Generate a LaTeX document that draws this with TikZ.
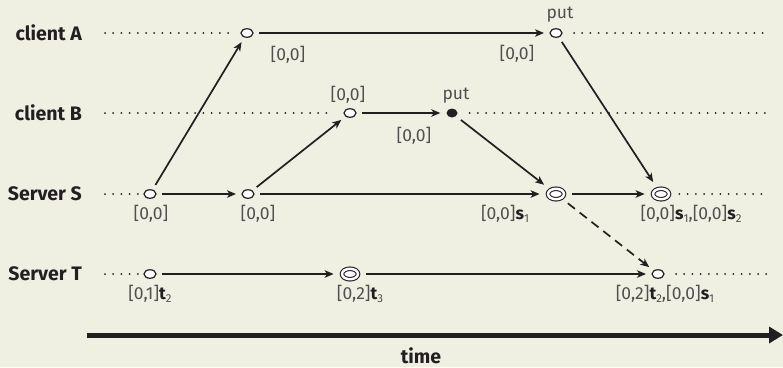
\documentclass[tikz,border=0pt]{standalone}
\usepackage{fontspec}
\setmainfont{Fira Sans}
\usetikzlibrary{arrows.meta,shapes.geometric}
\definecolor{bg}{RGB}{239,240,225}
\definecolor{ink}{RGB}{35,31,32}
\definecolor{lbl}{RGB}{80,80,80}
\newcommand\mysub[1]{\raisebox{-3pt}{\fontsize{11.5}{11.5}\selectfont #1}}
\newcommand\bs[1]{\textbf{\color{ink}#1}}
\begin{document}
\begin{tikzpicture}[x=1pt,y=-1pt,
  ev/.style={ellipse, draw=ink, fill=white, line width=1.2pt, minimum width=12pt, minimum height=8.5pt, inner sep=0pt, outer sep=0pt},
  dev/.style={ellipse, draw=ink, fill=white, line width=1.1pt, double=white, double distance=2.4pt, minimum width=16pt, minimum height=10.5pt, inner sep=0pt, outer sep=2.4pt},
  fev/.style={ellipse, fill=ink, minimum width=11pt, minimum height=9pt, inner sep=0pt},
  msg/.style={draw=ink, line width=1.7pt, -{Stealth[length=9pt,width=7.5pt,inset=2.5pt]}, shorten >=6pt, shorten <=6pt},
  dots/.style={draw=ink, line width=2pt, dash pattern=on 0pt off 8.2pt, line cap=round},
  pname/.style={font=\bfseries\fontsize{19.5}{22}\selectfont, text=ink, anchor=east, inner sep=0pt},
  lab/.style={font=\fontsize{17.5}{20}\selectfont, text=lbl, inner sep=0pt},
]
\fill[bg] (0,0) rectangle (783,367);
\useasboundingbox (0,0) rectangle (783,367);

% process names
\node[pname] (nA) at (82,33) {client A};
\node[pname] (nB) at (82,113) {client B};
\node[pname] (nS) at (82,194) {Server S};
\node[pname] (nT) at (82,274) {Server T};

% events
\node[ev]  (A1) at (247,33) {};
\node[ev]  (A2) at (556,33) {};
\node[ev]  (B1) at (350,113) {};
\node[fev] (B2) at (452,113) {};
\node[ev]  (S1) at (150,194) {};
\node[ev]  (S2) at (248,194) {};
\node[dev] (S3) at (556,194) {};
\node[dev] (S4) at (661,194) {};
\node[ev]  (T1) at (150,274) {};
\node[dev] (T2) at (350,274) {};
\node[ev]  (T3) at (658,274) {};

% dotted timelines
\coordinate (a0) at (105,33);  \coordinate (a9) at (768,33);
\coordinate (b0) at (105,113); \coordinate (b9) at (768,113);
\coordinate (s0) at (105,194); \coordinate (s9) at (768,194);
\coordinate (t0) at (105,274); \coordinate (t9) at (768,274);
\draw[dots] (a0) -- ([xshift=-12pt]A1.west);
\draw[dots] ([xshift=12pt]A2.east) -- (a9);
\draw[dots] (b0) -- ([xshift=-12pt]B1.west);
\draw[dots] ([xshift=12pt]B2.east) -- (b9);
\draw[dots] (s0) -- ([xshift=-6pt]S1.west);
\draw[dots] ([xshift=8pt]S4.east) -- (s9);
\draw[dots] (t0) -- ([xshift=-6pt]T1.west);
\draw[dots] ([xshift=12pt]T3.east) -- (t9);

% messages
\draw[msg] (S1) -- (A1);
\draw[msg] (S1) -- (S2);
\draw[msg] (S2) -- (B1);
\draw[msg] (S2) -- (S3);
\draw[msg] (A1) -- (A2);
\draw[msg] (B1) -- (B2);
\draw[msg] (B2) -- (S3);
\draw[msg] (A2) -- (S4);
\draw[msg] (S3) -- (S4);
\draw[msg, dash pattern=on 9pt off 6pt] (S3) -- (T3);
\draw[msg] (T1) -- (T2);
\draw[msg] (T2) -- (T3);

% labels
\node[lab] (lA1) at (288,55) {[0,0]};
\node[lab] (lA2) at (517,54) {[0,0]};
\node[lab] (pA)  at (560,15) {put};
\node[lab] (lB1) at (348,95) {[0,0]};
\node[lab] (pB)  at (456,96) {put};
\node[lab] (lB2) at (414,136) {[0,0]};
\node[lab] (lS1) at (151,214) {[0,0]};
\node[lab] (lS2) at (258,214) {[0,0]};
\node[lab] (lS3) at (505,214) {[0,0]\bs{s}\mysub{1}};
\node[lab] (lS4) at (691,214) {[0,0]\bs{s}\mysub{1},[0,0]\bs{s}\mysub{2}};
\node[lab] (lT1) at (150,294) {[0,1]\bs{t}\mysub{2}};
\node[lab] (lT2) at (360,294) {[0,2]\bs{t}\mysub{3}};
\node[lab] (lT3) at (665,294) {[0,2]\bs{t}\mysub{2},[0,0]\bs{s}\mysub{1}};

% time axis
\coordinate (tl) at (87,335);
\coordinate (tr) at (783,335);
\draw[ink, line width=5pt, -{Triangle[length=14pt,width=16pt]}] (tl) -- (tr);
\node[pname, anchor=base] (time) at (421,363) {time};
\end{tikzpicture}
\end{document}
